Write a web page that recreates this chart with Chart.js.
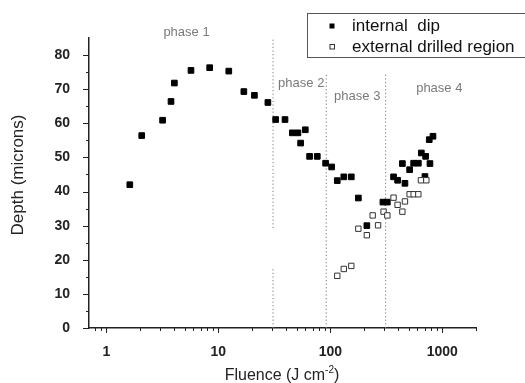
<!DOCTYPE html>
<html>
<head>
<meta charset="utf-8">
<script src="https://cdn.jsdelivr.net/npm/chart.js@4.4.1/dist/chart.umd.min.js"></script>
<style>
  body { margin: 0; background: #fff; }
  #wrap { width: 525px; height: 383px; }
</style>
</head>
<body>
<div id="wrap"><canvas id="chart" width="525" height="383"></canvas></div>
<script>
// internal dip (filled squares)
const fluenceInternal = [1.62, 2.07, 3.18, 3.78, 4.05, 5.7, 8.37, 12.4, 16.9, 21.0, 27.7, 32.5, 39.4,
  45.8, 51.4, 59.8, 54.3, 65.3, 76.5, 90.8, 102.8, 115.4, 132, 154, 178, 212, 295, 323,
  367, 399, 440, 464, 511, 555, 611, 650, 710, 700, 776, 765, 826];
const depthInternal = [42.0, 56.4, 60.9, 66.4, 71.8, 75.5, 76.3, 75.3, 69.3, 68.2, 66.1, 61.1, 61.1,
  57.2, 57.2, 58.1, 54.2, 50.3, 50.3, 48.3, 47.2, 43.2, 44.3, 44.3, 38.1, 30.0, 36.9, 36.9,
  44.3, 43.3, 48.2, 42.4, 46.4, 48.3, 48.3, 51.3, 50.3, 44.4, 48.2, 55.2, 56.2];

// external drilled region (open squares)
const fluenceExternal = [115.4, 132, 154, 178, 212, 239, 267, 299, 323, 367, 399, 440, 464, 511, 555, 611, 645, 720];
const depthExternal = [15.3, 17.3, 18.2, 29.1, 27.2, 33.0, 30.1, 34.1, 33.0, 38.2, 36.1, 34.1, 37.1, 39.2, 39.2, 39.2, 43.3, 43.3];

// phase boundaries (fluence)
const phaseBounds = [30.8, 92, 312];
const phaseNames = ["phase 1", "phase 2", "phase 3", "phase 4"];

const xMajorTicks = [1, 10, 100, 1000];
const yTicks = [0, 10, 20, 30, 40, 50, 60, 70, 80];

const toPoints = (xs, ys) => xs.map((x, i) => ({ x: x, y: ys[i] }));

const font = "Arial, 'Liberation Sans', sans-serif";
const axisColor = "#222";

// minor ticks for the log axis
const xAllTicks = [];
for (let d = 0.1; d <= 1000; d *= 10) {
  for (let k = 1; k <= 9; k++) {
    const v = +(k * d).toPrecision(3);
    if (v >= 0.71 && v <= 2000) xAllTicks.push(v);
  }
}
xAllTicks.push(2000);

const boundLine = (x, gap) => {
  if (gap) {
    return [{ x: x, y: 0 }, { x: x, y: 17.3 }, { x: x, y: null }, { x: x, y: 29.3 }, { x: x, y: 84.8 }];
  }
  return [{ x: x, y: 0 }, { x: x, y: 74.8 }];
};

const lineStyle = {
  type: "line",
  borderColor: "#7a7a7a",
  borderWidth: 1,
  borderDash: [1.2, 2.4],
  pointRadius: 0,
  fill: false,
  spanGaps: false,
  order: 5
};

const extras = {
  id: "extras",
  afterDraw(chart) {
    const ctx = chart.ctx;
    const xs = chart.scales.x;
    const ys = chart.scales.y;
    ctx.save();

    // tick marks (outward)
    ctx.strokeStyle = axisColor;
    ctx.lineWidth = 1;
    ctx.beginPath();
    xAllTicks.forEach((v) => {
      const px = Math.round(xs.getPixelForValue(v)) + 0.5;
      const len = xMajorTicks.includes(v) ? 5 : 3;
      ctx.moveTo(px, ys.bottom);
      ctx.lineTo(px, ys.bottom + len);
    });
    for (let v = 0; v <= 80; v += 5) {
      const py = Math.round(ys.getPixelForValue(v)) + 0.5;
      const len = v % 10 === 0 ? 6 : 3;
      ctx.moveTo(xs.left, py);
      ctx.lineTo(xs.left - len, py);
    }
    ctx.stroke();

    // phase labels
    ctx.fillStyle = "#7a7a7a";
    ctx.font = "13px " + font;
    ctx.textAlign = "center";
    ctx.textBaseline = "middle";
    const phaseAt = [[5.2, 86.7], [55, 71.7], [174, 67.9], [940, 70.2]];
    phaseNames.forEach((name, i) => {
      ctx.fillText(name, xs.getPixelForValue(phaseAt[i][0]), ys.getPixelForValue(phaseAt[i][1]));
    });

    // y axis title
    ctx.fillStyle = axisColor;
    ctx.save();
    ctx.translate(18, 175);
    ctx.rotate(-Math.PI / 2);
    ctx.font = "17px " + font;
    ctx.fillText("Depth (microns)", 0, 0);
    ctx.restore();

    // x axis title with superscript
    ctx.textAlign = "left";
    ctx.textBaseline = "alphabetic";
    const main = "Fluence (J cm";
    ctx.font = "16px " + font;
    const w1 = ctx.measureText(main).width;
    ctx.font = "10px " + font;
    const w2 = ctx.measureText("-2").width;
    ctx.font = "16px " + font;
    const w3 = ctx.measureText(")").width;
    const total = w1 + w2 + w3;
    let tx = 282 - total / 2;
    const base = 380;
    ctx.fillText(main, tx, base);
    tx += w1;
    ctx.font = "10px " + font;
    ctx.fillText("-2", tx, base - 7);
    tx += w2;
    ctx.font = "16px " + font;
    ctx.fillText(")", tx, base);

    // legend
    ctx.strokeStyle = "#555";
    ctx.lineWidth = 1;
    ctx.strokeRect(307.5, 13.5, 230, 44);
    ctx.fillStyle = "#000";
    ctx.fillRect(329.5, 23.5, 5, 5);
    ctx.strokeStyle = "#333";
    ctx.strokeRect(330, 44.5, 4.5, 4.5);
    ctx.fillStyle = "#111";
    ctx.font = "17px " + font;
    ctx.textBaseline = "middle";
    ctx.fillText("internal  dip", 352, 26);
    ctx.fillText("external drilled region", 352, 47);

    ctx.restore();
  }
};

new Chart(document.getElementById("chart"), {
  type: "scatter",
  data: {
    datasets: [
      {
        label: "internal dip",
        data: toPoints(fluenceInternal, depthInternal),
        pointStyle: "rect",
        pointRadius: 4,
        backgroundColor: "#000",
        borderColor: "#000",
        borderWidth: 1,
        order: 2
      },
      {
        label: "external drilled region",
        data: toPoints(fluenceExternal, depthExternal),
        pointStyle: "rect",
        pointRadius: 3.8,
        backgroundColor: "#fff",
        borderColor: "#333",
        borderWidth: 1,
        order: 1
      },
      Object.assign({ label: "b1", data: boundLine(phaseBounds[0], true) }, lineStyle),
      Object.assign({ label: "b2", data: boundLine(phaseBounds[1], false) }, lineStyle),
      Object.assign({ label: "b3", data: boundLine(phaseBounds[2], false) }, lineStyle)
    ]
  },
  options: {
    responsive: false,
    animation: false,
    layout: { padding: { left: 0, top: 38, right: 49, bottom: 0 } },
    plugins: {
      legend: { display: false },
      tooltip: { enabled: false }
    },
    scales: {
      x: {
        type: "logarithmic",
        min: 0.71,
        max: 2000,
        grid: { display: false },
        border: { display: true, color: axisColor, width: 1.5 },
        afterBuildTicks: (scale) => {
          scale.ticks = xAllTicks.map((v) => ({ value: v }));
        },
        afterFit: (scale) => { scale.height = 55; },
        ticks: {
          autoSkip: false,
          maxRotation: 0,
          padding: 8,
          color: axisColor,
          font: { family: font, size: 14, weight: "bold" },
          callback: (v) => (xMajorTicks.includes(v) ? String(v) : "")
        }
      },
      y: {
        min: 0,
        max: 85,
        grid: { display: false },
        border: { display: true, color: axisColor, width: 1.5 },
        afterBuildTicks: (scale) => {
          scale.ticks = yTicks.map((v) => ({ value: v }));
        },
        afterFit: (scale) => { scale.width = 89; },
        ticks: {
          padding: 11,
          color: axisColor,
          font: { family: font, size: 14, weight: "bold" }
        }
      }
    }
  },
  plugins: [extras]
});
</script>
</body>
</html>
